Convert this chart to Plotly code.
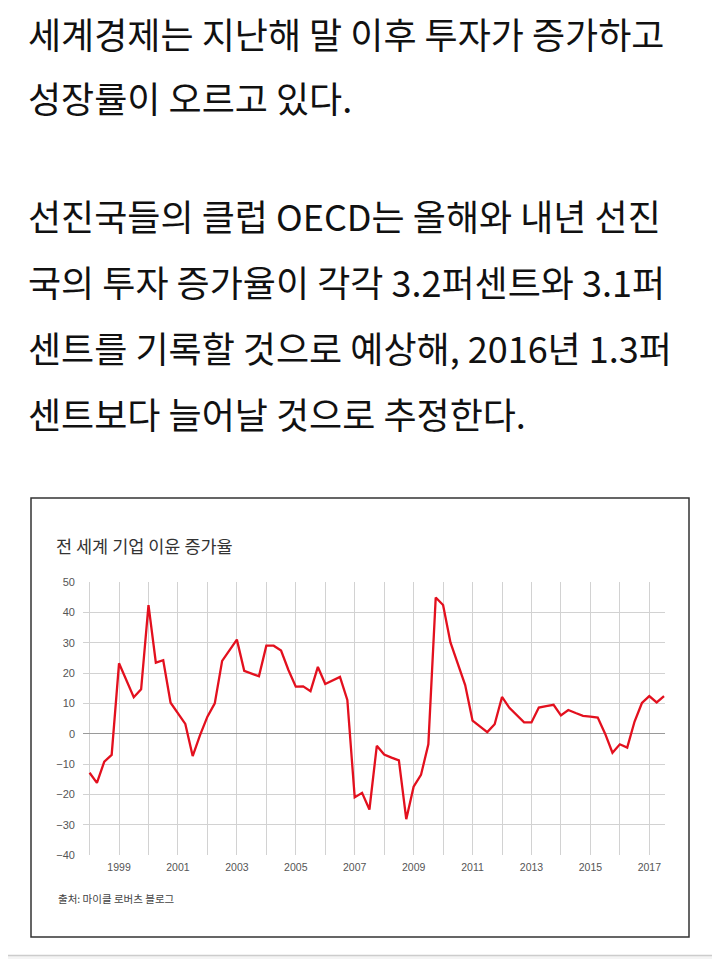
import plotly.graph_objects as go

# ---- data ----
periods = [f"{y}Q{q}" for y in range(1998, 2018) for q in range(1, 5)][:79]
profit_growth = [
    -12.9, -16.2, -9.2, -7.0,      # 1998
    23.2, 17.8, 12.0, 14.6,        # 1999
    42.4, 23.4, 24.2, 10.2,        # 2000
    6.7, 3.2, -7.4, -0.5,          # 2001
    5.6, 10.0, 24.0, 27.5,         # 2002
    31.0, 20.7, 19.8, 18.9,        # 2003
    29.0, 29.0, 27.4, 21.0,        # 2004
    15.5, 15.6, 14.0, 22.0,        # 2005
    16.4, 17.5, 18.7, 11.1,        # 2006
    -21.0, -19.5, -25.0, -4.0,     # 2007
    -6.9, -7.9, -8.8, -28.2,       # 2008
    -17.5, -13.6, -3.5, 44.9,      # 2009
    42.4, 30.1, 23.0, 16.0,        # 2010
    4.3, 2.5, 0.5, 3.1,            # 2011
    12.1, 8.5, 6.2, 3.7,           # 2012
    3.7, 8.6, 9.1, 9.5,            # 2013
    6.0, 7.8, 6.8, 5.9,            # 2014
    5.6, 5.3, 0.0, -6.3,           # 2015
    -3.5, -4.6, 4.0, 10.1,         # 2016
    12.4, 10.3, 12.4,              # 2017
]
y_ticks = [-40, -30, -20, -10, 0, 10, 20, 30, 40, 50]
x_tick_years = [1999, 2001, 2003, 2005, 2007, 2009, 2011, 2013, 2015, 2017]

chart_title = "전 세계 기업 이윤 증가율"
source_text = "출처: 마이클 로버츠 블로그"
paragraph_lines = [
    "세계경제는 지난해 말 이후 투자가 증가하고",
    "성장률이 오르고 있다.",
    "선진국들의 클럽 OECD는 올해와 내년 선진",
    "국의 투자 증가율이 각각 3.2퍼센트와 3.1퍼",
    "센트를 기록할 것으로 예상해, 2016년 1.3퍼",
    "센트보다 늘어날 것으로 추정한다.",
]

# ---- layout geometry (page has an 8px body margin) ----
OFF = 8
WIN_W, WIN_H = 720, 959
W, H = WIN_W - OFF, WIN_H - OFF
# plot area in window pixels: x 83..665, y 582..855
L = 83 - OFF
R = WIN_W - 665
T = 582 - OFF
B = WIN_H - 855
PW, PH = W - L - R, H - T - B


def px(xp):
    return (xp - OFF - L) / PW


def py(yp):
    return (OFF + T + PH - yp) / PH


x_vals = [int(p[:4]) + (int(p[-1]) - 1) / 4 for p in periods]

fig = go.Figure()
fig.add_trace(go.Scatter(
    x=x_vals, y=profit_growth, mode="lines",
    line=dict(color="#e3101e", width=2.3),
    hoverinfo="skip", showlegend=False,
))

grid = "#d2d2d2"
fig.update_layout(
    width=W, height=H, autosize=False,
    margin=dict(l=L, r=R, t=T, b=B, pad=0),
    paper_bgcolor="white", plot_bgcolor="white",
    showlegend=False,
    xaxis=dict(
        range=[1997.777, 2017.533], tickmode="array", tickvals=x_tick_years,
        ticktext=[str(v) for v in x_tick_years],
        showgrid=True, gridcolor=grid, gridwidth=1,
        minor=dict(dtick=1, tick0=1998, showgrid=True, gridcolor=grid, gridwidth=1),
        zeroline=False, showline=False, ticks="",
        tickfont=dict(family="Liberation Sans, Arial", size=10.5, color="#555"),
        ticklabelstandoff=4, fixedrange=True,
    ),
    yaxis=dict(
        range=[-40, 50], tickmode="array", tickvals=y_ticks,
        showgrid=True, gridcolor=grid, gridwidth=1,
        zeroline=True, zerolinecolor="#9a9a9a", zerolinewidth=1,
        showline=False, ticks="",
        tickfont=dict(family="Liberation Sans, Arial", size=11, color="#555"),
        ticklabelstandoff=7, fixedrange=True,
    ),
)

annotations = []
line_centers = [33, 97, 215, 281, 347, 413]
for txt, yc in zip(paragraph_lines, line_centers):
    annotations.append(dict(
        text=txt, xref="paper", yref="paper", x=px(28), y=py(yc),
        xanchor="left", yanchor="middle", showarrow=False,
        borderpad=0, borderwidth=0,
        font=dict(family="Noto Sans CJK KR", size=36, color="#111"),
    ))
annotations.append(dict(
    text=chart_title, xref="paper", yref="paper", x=px(54), y=py(545),
    xanchor="left", yanchor="middle", showarrow=False,
    font=dict(family="Noto Sans CJK KR", size=17.5, color="#333"),
))
annotations.append(dict(
    text=source_text, xref="paper", yref="paper", x=px(56), y=py(898),
    xanchor="left", yanchor="middle", showarrow=False,
    font=dict(family="Noto Sans CJK KR", size=10.5, color="#444"),
))
fig.update_layout(annotations=annotations)

fig.add_shape(type="rect", xref="paper", yref="paper",
              x0=px(31), x1=px(689), y0=py(937), y1=py(498),
              line=dict(color="#333", width=1.5), fillcolor="rgba(0,0,0,0)", layer="below")
fig.add_shape(type="rect", xref="paper", yref="paper",
              x0=px(OFF), x1=px(WIN_W), y0=py(WIN_H), y1=py(955),
              line=dict(width=0), fillcolor="#f4f4f4", layer="below")
fig.add_shape(type="line", xref="paper", yref="paper",
              x0=px(OFF), x1=px(WIN_W), y0=py(955.5), y1=py(955.5),
              line=dict(color="#cccccc", width=1.5))

fig.write_html("out.html")
